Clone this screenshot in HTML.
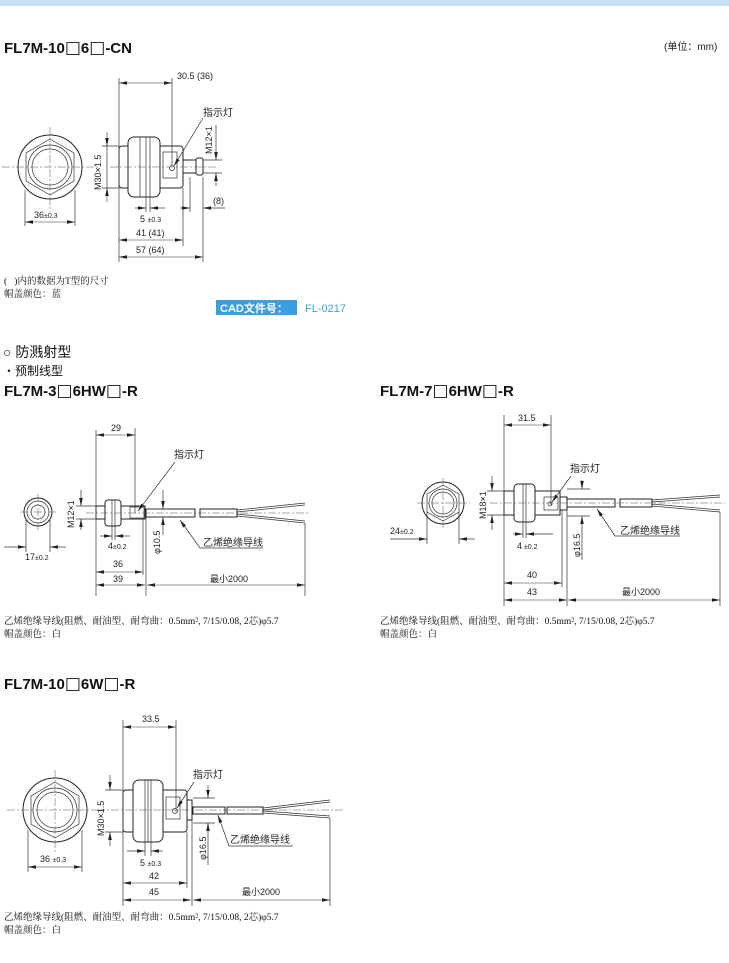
<!DOCTYPE html>
<html><head><meta charset="utf-8"><style>
html,body{margin:0;padding:0;background:#fff;width:729px;height:963px;overflow:hidden}
svg{display:block}
.t{font-family:"Liberation Sans","Noto Sans CJK SC",sans-serif;fill:#222}
.s{font-family:"Liberation Serif","Noto Serif CJK SC",serif;fill:#111;font-size:9.5px}
.h{font-family:"Liberation Sans","Noto Sans CJK SC",sans-serif;font-weight:bold;font-size:15px;fill:#111}
.q{font-family:"DejaVu Sans",sans-serif;font-weight:normal;font-size:17px}
.d{font-family:"Liberation Sans","Noto Sans CJK SC",sans-serif;font-size:9px;fill:#222}
.l{stroke:#333;stroke-width:.7;fill:none}
.b{stroke:#222;stroke-width:1;fill:#fff}
.c{stroke:#555;stroke-width:.5;stroke-dasharray:8 2 2 2;fill:none}
.a{stroke:#333;stroke-width:.6;fill:none;marker-start:url(#ms);marker-end:url(#me)}
</style></head><body>
<svg width="729" height="963" viewBox="0 0 729 963" xmlns="http://www.w3.org/2000/svg">
<defs>
<marker id="me" markerWidth="8" markerHeight="6" refX="8" refY="3" orient="auto" markerUnits="userSpaceOnUse"><path d="M0,1.2 L8,3 L0,4.8z" fill="#222"/></marker>
<marker id="ms" markerWidth="8" markerHeight="6" refX="0" refY="3" orient="auto" markerUnits="userSpaceOnUse"><path d="M8,1.2 L0,3 L8,4.8z" fill="#222"/></marker>
</defs>
<rect x="0" y="0" width="729" height="6" fill="#c6ddf3"/>
<text class="h" x="4" y="53">FL7M-10<tspan class="q">□</tspan>6<tspan class="q">□</tspan>-CN</text>
<text class="t" x="664" y="50" font-size="10">(单位：mm)</text>

<!-- Drawing 1 -->
<g>
<circle class="b" cx="50" cy="167" r="32"/>
<polygon class="l" points="50,139 74,153 74,181 50,195 26,181 26,153"/>
<circle class="l" cx="50" cy="167" r="22"/>
<circle class="l" cx="50" cy="167" r="18"/>
<line class="c" x1="2" y1="167" x2="98" y2="167"/><line class="c" x1="50" y1="127" x2="50" y2="212"/>
<line class="l" x1="25" y1="190" x2="25" y2="226"/><line class="l" x1="75" y1="190" x2="75" y2="226"/>
<line class="a" x1="25" y1="222" x2="75" y2="222"/>
<text class="d" x="34" y="218">36<tspan font-size="7">±0.3</tspan></text>

<rect class="b" x="119" y="146" width="64" height="42" rx="3"/>
<rect class="b" x="128" y="137" width="32" height="60" rx="6"/>
<line class="l" x1="140" y1="137" x2="140" y2="197"/><line class="l" x1="146" y1="137" x2="146" y2="197"/><line class="l" x1="150" y1="137" x2="150" y2="197"/>
<rect class="l" x="163" y="152" width="14" height="26"/>
<circle class="l" cx="172" cy="168" r="2.5"/>
<rect class="b" x="183" y="160" width="14" height="13"/>
<rect class="b" x="196" y="158" width="7" height="17" rx="2"/>
<line class="c" x1="110" y1="167" x2="218" y2="167"/>
<line class="l" x1="119" y1="78" x2="119" y2="262"/>
<line class="l" x1="172" y1="78" x2="172" y2="165"/>
<line class="a" x1="119" y1="83" x2="172" y2="83"/>
<text class="d" x="177" y="79">30.5 (36)</text>
<text class="t" x="203" y="116" font-size="10">指示灯</text>
<line class="l" x1="203" y1="118" x2="174" y2="166" marker-end="url(#me)"/>
<line class="l" x1="102" y1="146" x2="119" y2="146"/><line class="l" x1="102" y1="188" x2="119" y2="188"/>
<line class="a" x1="107" y1="132" x2="107" y2="146" style="marker-start:none"/>
<line class="a" x1="107" y1="202" x2="107" y2="188" style="marker-start:none"/>
<line class="l" x1="107" y1="146" x2="107" y2="188"/>
<text class="d" transform="translate(101,190) rotate(-90)">M30×1.5</text>
<line class="l" x1="203" y1="160" x2="222" y2="160"/><line class="l" x1="203" y1="173" x2="222" y2="173"/>
<line class="l" x1="216" y1="125" x2="216" y2="160" marker-end="url(#me)"/>
<line class="l" x1="216" y1="186" x2="216" y2="173" marker-end="url(#me)"/>
<text class="d" transform="translate(212,154) rotate(-90)">M12×1</text>
<line class="l" x1="190" y1="177" x2="190" y2="212"/><line class="l" x1="203" y1="177" x2="203" y2="262"/>
<line class="l" x1="180" y1="208" x2="190" y2="208" marker-end="url(#me)"/>
<line class="l" x1="225" y1="208" x2="203" y2="208" marker-end="url(#me)"/>
<text class="d" x="213" y="204">(8)</text>
<line class="l" x1="146" y1="197" x2="146" y2="212"/><line class="l" x1="150" y1="197" x2="150" y2="212"/>
<line class="l" x1="135" y1="208" x2="146" y2="208" marker-end="url(#me)"/>
<line class="l" x1="165" y1="208" x2="150" y2="208" marker-end="url(#me)"/>
<text class="d" x="140" y="222">5 <tspan font-size="7">±0.3</tspan></text>
<line class="l" x1="183" y1="188" x2="183" y2="246"/>
<line class="a" x1="119" y1="240" x2="183" y2="240"/>
<text class="d" x="136" y="236">41 (41)</text>
<line class="a" x1="119" y1="257" x2="203" y2="257"/>
<text class="d" x="136" y="253">57 (64)</text>
</g>
<text class="s" x="4" y="284">(&#160;&#160;&#160;)内的数据为T型的尺寸</text>
<text class="s" x="4" y="297">帽盖颜色：蓝</text>
<rect x="216" y="300" width="81" height="15" fill="#3a9fe0"/>
<text class="t" x="220" y="312" font-size="11" style="fill:#fff;font-weight:bold">CAD文件号：</text>
<text class="t" x="305" y="312" font-size="11" style="fill:#3a9fe0">FL-0217</text>

<text class="t" x="3" y="357" font-size="14" style="fill:#111">○ 防溅射型</text>
<text class="t" x="3" y="375" font-size="12" style="fill:#111">・预制线型</text>
<text class="h" x="4" y="396">FL7M-3<tspan class="q">□</tspan>6HW<tspan class="q">□</tspan>-R</text>
<text class="h" x="380" y="396">FL7M-7<tspan class="q">□</tspan>6HW<tspan class="q">□</tspan>-R</text>

<!-- Drawing 2 -->
<g>
<circle class="b" cx="38" cy="512" r="14"/>
<circle class="l" cx="38" cy="512" r="11"/>
<circle class="l" cx="38" cy="512" r="7"/>
<line class="c" x1="20" y1="512" x2="56" y2="512"/><line class="c" x1="38" y1="494" x2="38" y2="530"/>
<line class="l" x1="26" y1="520" x2="26" y2="552"/><line class="l" x1="50" y1="520" x2="50" y2="552"/>
<line class="l" x1="4" y1="547" x2="26" y2="547" marker-end="url(#me)"/>
<line class="l" x1="66" y1="547" x2="50" y2="547" marker-end="url(#me)"/>
<text class="d" x="25" y="560">17<tspan font-size="7">±0.2</tspan></text>
<rect class="b" x="96" y="506" width="49" height="13"/>
<rect class="b" x="105" y="500" width="16" height="26" rx="3"/>
<line class="l" x1="112" y1="500" x2="112" y2="526"/><line class="l" x1="115" y1="500" x2="115" y2="526"/>
<rect class="l" x="130" y="507" width="14" height="11"/>
<rect class="b" x="146" y="509" width="49" height="8"/>
<rect class="b" x="200" y="509" width="37" height="8"/>
<path class="l" d="M237,510 L305,503 M237,516 L305,523 M237,512 L305,505 M237,514 L305,521"/>
<line class="c" x1="86" y1="513" x2="310" y2="513"/>
<line class="l" x1="96" y1="430" x2="96" y2="596"/>
<line class="l" x1="135" y1="428" x2="135" y2="513"/>
<line class="a" x1="96" y1="435" x2="135" y2="435"/>
<text class="d" x="111" y="431">29</text>
<text class="t" x="174" y="458" font-size="10">指示灯</text>
<line class="l" x1="175" y1="462" x2="138" y2="511" marker-end="url(#me)"/>
<line class="l" x1="76" y1="506" x2="96" y2="506"/><line class="l" x1="76" y1="519" x2="96" y2="519"/>
<line class="l" x1="81" y1="490" x2="81" y2="506" marker-end="url(#me)"/>
<line class="l" x1="81" y1="530" x2="81" y2="519" marker-end="url(#me)"/>
<text class="d" transform="translate(74,528) rotate(-90)">M12×1</text>
<line class="l" x1="146" y1="509" x2="168" y2="509"/><line class="l" x1="146" y1="517" x2="168" y2="517"/>
<line class="l" x1="163" y1="490" x2="163" y2="509" marker-end="url(#me)"/>
<line class="l" x1="163" y1="535" x2="163" y2="517" marker-end="url(#me)"/>
<text class="d" transform="translate(160,554) rotate(-90)">φ10.5</text>
<text class="t" x="203" y="546" font-size="10">乙烯绝缘导线</text>
<path class="l" d="M263,548 L200,548 L180,520" marker-end="url(#me)"/>
<line class="l" x1="112" y1="526" x2="112" y2="540"/><line class="l" x1="115" y1="526" x2="115" y2="540"/>
<line class="l" x1="100" y1="536" x2="112" y2="536" marker-end="url(#me)"/>
<line class="l" x1="130" y1="536" x2="115" y2="536" marker-end="url(#me)"/>
<text class="d" x="108" y="549">4<tspan font-size="7">±0.2</tspan></text>
<line class="l" x1="143" y1="519" x2="143" y2="575"/>
<line class="l" x1="146" y1="517" x2="146" y2="596"/>
<line class="a" x1="96" y1="572" x2="143" y2="572"/>
<text class="d" x="113" y="567">36</text>
<line class="a" x1="96" y1="585" x2="145" y2="585"/>
<text class="d" x="113" y="582">39</text>
<line class="l" x1="305" y1="523" x2="305" y2="596"/>
<line class="a" x1="147" y1="585" x2="305" y2="585"/>
<text class="d" x="210" y="582">最小2000</text>
</g>
<text class="s" x="4" y="624">乙烯绝缘导线(阻燃、耐油型、耐弯曲：0.5mm², 7/15/0.08, 2芯)φ5.7</text>
<text class="s" x="4" y="637">帽盖颜色：白</text>

<!-- Drawing 3 -->
<g>
<circle class="b" cx="443" cy="503" r="21"/>
<polygon class="l" points="443,485 459,494 459,512 443,521 427,512 427,494"/>
<circle class="l" cx="443" cy="503" r="14"/>
<circle class="l" cx="443" cy="503" r="11"/>
<line class="c" x1="417" y1="503" x2="470" y2="503"/><line class="c" x1="443" y1="478" x2="443" y2="528"/>
<line class="l" x1="427" y1="512" x2="427" y2="544"/><line class="l" x1="459" y1="512" x2="459" y2="544"/>
<line class="l" x1="390" y1="539" x2="427" y2="539" marker-end="url(#me)"/>
<line class="l" x1="475" y1="539" x2="459" y2="539" marker-end="url(#me)"/>
<text class="d" x="390" y="534">24<tspan font-size="7">±0.2</tspan></text>
<rect class="b" x="504" y="491" width="56" height="24"/>
<rect class="b" x="514" y="484" width="21" height="38" rx="4"/>
<line class="l" x1="523" y1="484" x2="523" y2="522"/><line class="l" x1="526" y1="484" x2="526" y2="522"/>
<rect class="l" x="544" y="497" width="14" height="13"/>
<circle class="l" cx="550" cy="504" r="2"/>
<rect class="b" x="560" y="497" width="7" height="13"/>
<rect class="b" x="567" y="499" width="48" height="8"/>
<rect class="b" x="620" y="499" width="32" height="8"/>
<path class="l" d="M652,500 L720,495 M652,506 L720,512 M652,502 L720,497 M652,504 L720,510"/>
<line class="c" x1="490" y1="503" x2="725" y2="503"/>
<line class="l" x1="504" y1="415" x2="504" y2="606"/>
<line class="l" x1="551" y1="415" x2="551" y2="505"/>
<line class="a" x1="504" y1="425" x2="551" y2="425"/>
<text class="d" x="518" y="421">31.5</text>
<text class="t" x="570" y="472" font-size="10">指示灯</text>
<line class="l" x1="571" y1="476" x2="552" y2="502" marker-end="url(#me)"/>
<line class="l" x1="487" y1="491" x2="504" y2="491"/><line class="l" x1="487" y1="515" x2="504" y2="515"/>
<line class="l" x1="492" y1="476" x2="492" y2="491" marker-end="url(#me)"/>
<line class="l" x1="492" y1="530" x2="492" y2="515" marker-end="url(#me)"/>
<text class="d" transform="translate(486,519) rotate(-90)">M18×1</text>
<line class="l" x1="567" y1="489" x2="590" y2="489"/><line class="l" x1="567" y1="516" x2="590" y2="516"/>
<line class="l" x1="582" y1="480" x2="582" y2="489" marker-end="url(#me)"/>
<line class="l" x1="582" y1="560" x2="582" y2="516" marker-end="url(#me)"/>
<text class="d" transform="translate(580,557) rotate(-90)">φ16.5</text>
<text class="t" x="620" y="534" font-size="10">乙烯绝缘导线</text>
<path class="l" d="M680,536 L615,536 L597,509" marker-end="url(#me)"/>
<line class="l" x1="523" y1="522" x2="523" y2="538"/><line class="l" x1="526" y1="522" x2="526" y2="538"/>
<line class="l" x1="513" y1="534" x2="523" y2="534" marker-end="url(#me)"/>
<line class="l" x1="553" y1="534" x2="526" y2="534" marker-end="url(#me)"/>
<text class="d" x="517" y="549">4<tspan font-size="7"> ±0.2</tspan></text>
<line class="l" x1="562" y1="510" x2="562" y2="587"/>
<line class="l" x1="567" y1="510" x2="567" y2="606"/>
<line class="a" x1="504" y1="583" x2="562" y2="583"/>
<text class="d" x="527" y="578">40</text>
<line class="a" x1="504" y1="600" x2="567" y2="600"/>
<text class="d" x="527" y="595">43</text>
<line class="l" x1="720" y1="512" x2="720" y2="606"/>
<line class="a" x1="568" y1="600" x2="720" y2="600"/>
<text class="d" x="622" y="595">最小2000</text>
</g>
<text class="s" x="380" y="624">乙烯绝缘导线(阻燃、耐油型、耐弯曲：0.5mm², 7/15/0.08, 2芯)φ5.7</text>
<text class="s" x="380" y="637">帽盖颜色：白</text>

<text class="h" x="4" y="689">FL7M-10<tspan class="q">□</tspan>6W<tspan class="q">□</tspan>-R</text>

<!-- Drawing 4 -->
<g>
<circle class="b" cx="55" cy="810" r="32"/>
<polygon class="l" points="55,782 79,796 79,824 55,838 31,824 31,796"/>
<circle class="l" cx="55" cy="810" r="22"/>
<circle class="l" cx="55" cy="810" r="18"/>
<line class="c" x1="7" y1="810" x2="103" y2="810"/><line class="c" x1="55" y1="770" x2="55" y2="852"/>
<line class="l" x1="28" y1="830" x2="28" y2="872"/><line class="l" x1="82" y1="830" x2="82" y2="872"/>
<line class="a" x1="28" y1="867" x2="82" y2="867"/>
<text class="d" x="40" y="862">36 <tspan font-size="7">±0.3</tspan></text>
<rect class="b" x="123" y="790" width="64" height="42" rx="3"/>
<rect class="b" x="133" y="780" width="30" height="62" rx="6"/>
<line class="l" x1="145" y1="780" x2="145" y2="842"/><line class="l" x1="148" y1="780" x2="148" y2="842"/><line class="l" x1="151" y1="780" x2="151" y2="842"/>
<rect class="l" x="166" y="797" width="14" height="22"/>
<circle class="l" cx="175" cy="811" r="2.5"/>
<rect class="b" x="187" y="800" width="5" height="20"/>
<rect class="b" x="193" y="807" width="32" height="7"/>
<rect class="b" x="227" y="807" width="36" height="7"/>
<path class="l" d="M263,808 L330,800 M263,813 L330,818 M263,810 L330,802 M263,811 L330,816"/>
<line class="c" x1="97" y1="810" x2="345" y2="810"/>
<line class="l" x1="123" y1="720" x2="123" y2="906"/>
<line class="l" x1="176" y1="720" x2="176" y2="812"/>
<line class="a" x1="123" y1="727" x2="176" y2="727"/>
<text class="d" x="142" y="722">33.5</text>
<text class="t" x="193" y="778" font-size="10">指示灯</text>
<line class="l" x1="194" y1="782" x2="177" y2="808" marker-end="url(#me)"/>
<line class="l" x1="105" y1="790" x2="123" y2="790"/><line class="l" x1="105" y1="832" x2="123" y2="832"/>
<line class="l" x1="110" y1="775" x2="110" y2="790" marker-end="url(#me)"/>
<line class="l" x1="110" y1="846" x2="110" y2="832" marker-end="url(#me)"/>
<text class="d" transform="translate(104,836) rotate(-90)">M30×1.5</text>
<line class="l" x1="193" y1="798" x2="215" y2="798"/><line class="l" x1="193" y1="823" x2="215" y2="823"/>
<line class="l" x1="208" y1="785" x2="208" y2="798" marker-end="url(#me)"/>
<line class="l" x1="208" y1="865" x2="208" y2="823" marker-end="url(#me)"/>
<text class="d" transform="translate(206,860) rotate(-90)">φ16.5</text>
<text class="t" x="230" y="843" font-size="10">乙烯绝缘导线</text>
<path class="l" d="M293,846 L229,846 L218,815" marker-end="url(#me)"/>
<line class="l" x1="145" y1="842" x2="145" y2="856"/><line class="l" x1="151" y1="842" x2="151" y2="856"/>
<line class="l" x1="127" y1="851" x2="145" y2="851" marker-end="url(#me)"/>
<line class="l" x1="163" y1="851" x2="151" y2="851" marker-end="url(#me)"/>
<text class="d" x="140" y="866">5 <tspan font-size="7">±0.3</tspan></text>
<line class="l" x1="187" y1="832" x2="187" y2="888"/>
<line class="l" x1="192" y1="820" x2="192" y2="906"/>
<line class="a" x1="123" y1="883" x2="187" y2="883"/>
<text class="d" x="149" y="879">42</text>
<line class="a" x1="123" y1="900" x2="191" y2="900"/>
<text class="d" x="149" y="895">45</text>
<line class="l" x1="330" y1="818" x2="330" y2="906"/>
<line class="a" x1="193" y1="900" x2="330" y2="900"/>
<text class="d" x="242" y="895">最小2000</text>
</g>
<text class="s" x="4" y="920">乙烯绝缘导线(阻燃、耐油型、耐弯曲：0.5mm², 7/15/0.08, 2芯)φ5.7</text>
<text class="s" x="4" y="933">帽盖颜色：白</text>
</svg>
</body></html>
